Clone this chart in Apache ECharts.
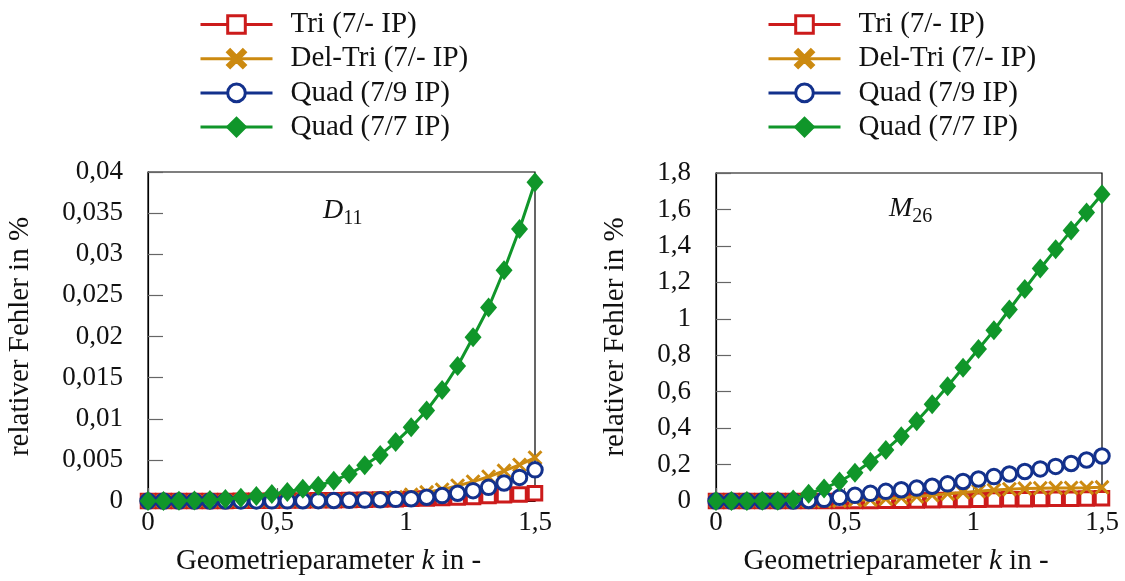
<!DOCTYPE html>
<html><head><meta charset="utf-8">
<script src="https://cdn.jsdelivr.net/npm/echarts@6/dist/echarts.min.js"></script>
<style>html,body{margin:0;padding:0;background:#fff}#c{width:1125px;height:581px}</style>
</head><body><div id="c"></div>
<script>
const xs = [0, 0.06, 0.12, 0.18, 0.24, 0.30, 0.36, 0.42, 0.48, 0.54, 0.60, 0.66, 0.72, 0.78, 0.84, 0.90, 0.96, 1.02, 1.08, 1.14, 1.20, 1.26, 1.32, 1.38, 1.44, 1.50];

const seriesNames = ['Tri (7/- IP)', 'Del-Tri (7/- IP)', 'Quad (7/9 IP)', 'Quad (7/7 IP)'];

// Left panel: D11
const d11Tri    = [0, 0, 0, 0, 0, 0.00001, 0.00002, 0.00003, 0.00004, 0.00005, 0.00006, 0.00008, 0.0001, 0.00012, 0.00015, 0.00018, 0.00022, 0.00026, 0.0003, 0.00036, 0.00042, 0.0005, 0.0006, 0.0007, 0.0008, 0.00095];
const d11DelTri = [0, 0, 0, 0, 0, 0, 0, 0.00001, 0.00001, 0.00002, 0.00003, 0.00004, 0.00006, 0.0001, 0.00015, 0.00026, 0.00046, 0.00075, 0.00106, 0.00138, 0.00186, 0.00235, 0.00295, 0.00367, 0.00439, 0.00527];
const d11Quad9  = [0, 0, 0, 0, 0, 0, 0.00001, 0.00001, 0.00002, 0.00002, 0.00003, 0.00004, 0.00006, 0.00008, 0.00011, 0.00015, 0.0002, 0.00028, 0.00045, 0.00066, 0.00094, 0.00126, 0.00166, 0.00219, 0.00287, 0.00379];
const d11Quad7  = [0, 0, 0.00002, 0.00005, 0.00012, 0.00025, 0.0004, 0.0006, 0.00085, 0.0011, 0.0015, 0.00186, 0.00247, 0.00327, 0.00435, 0.0056, 0.00716, 0.00896, 0.0110, 0.0135, 0.01642, 0.01991, 0.02352, 0.02805, 0.03306, 0.03876];

// Right panel: M26
const m26Tri    = [0, 0, 0, 0, 0, 0, 0, 0, 0, 0, 0, 0.001, 0.002, 0.003, 0.004, 0.005, 0.006, 0.007, 0.008, 0.009, 0.010, 0.011, 0.012, 0.013, 0.014, 0.015];
const m26DelTri = [0, 0, 0, 0, 0, 0, 0, 0, 0.002, 0.004, 0.007, 0.012, 0.018, 0.025, 0.032, 0.040, 0.047, 0.054, 0.060, 0.065, 0.068, 0.070, 0.071, 0.072, 0.073, 0.075];
const m26Quad9  = [0, 0, 0, 0, 0, 0, 0.003, 0.009, 0.020, 0.031, 0.042, 0.053, 0.062, 0.071, 0.081, 0.094, 0.107, 0.121, 0.134, 0.148, 0.162, 0.176, 0.190, 0.206, 0.225, 0.247];
const m26Quad7  = [0, 0, 0, 0.001, 0.002, 0.008, 0.040, 0.069, 0.107, 0.155, 0.215, 0.280, 0.356, 0.437, 0.531, 0.630, 0.731, 0.834, 0.937, 1.051, 1.164, 1.276, 1.381, 1.484, 1.583, 1.683];

const yTicksLeft = {min: 0, max: 0.04, interval: 0.005};
const yTicksRight = {min: 0, max: 1.8, interval: 0.2};
const xTicks = {min: 0, max: 1.5, interval: 0.5};

const FONT = 'Liberation Serif';
const colors = ['#cc1b1b', '#cc8a10', '#13318c', '#10962a'];
const xPath = 'path://M0,2.8L2.8,0L10,7.2L17.2,0L20,2.8L12.8,10L20,17.2L17.2,20L10,12.8L2.8,20L0,17.2L7.2,10Z';
const symbols = [
  {symbol: 'rect', size: 13.5, fill: '#fff', bw: 3},
  {symbol: xPath, size: 15, fill: null, bw: 0},
  {symbol: 'circle', size: 14.5, fill: '#fff', bw: 3},
  {symbol: 'diamond', size: [17, 20], fill: null, bw: 0}
];

function fmt(v) { return String(+(+v).toFixed(6)).replace('.', ','); }

function mkSeries(dataArr, gi) {
  return dataArr.map((arr, i) => ({
    name: seriesNames[i],
    type: 'line',
    xAxisIndex: gi, yAxisIndex: gi,
    data: xs.map((x, j) => [x, arr[j]]),
    symbol: symbols[i].symbol,
    symbolSize: symbols[i].size,
    showAllSymbol: true,
    clip: false,
    z: 2 + i,
    lineStyle: {color: colors[i], width: 3},
    itemStyle: {
      color: symbols[i].fill || colors[i],
      borderColor: colors[i],
      borderWidth: symbols[i].bw,
      opacity: 1
    },
    emphasis: {disabled: true},
    animation: false
  }));
}

function xAxis(gi) {
  return {
    type: 'value', gridIndex: gi, min: xTicks.min, max: xTicks.max, interval: xTicks.interval,
    axisLine: {show: true, onZero: false, lineStyle: {color: '#000', width: 1.2}},
    axisTick: {show: true, inside: true, length: 13, lineStyle: {color: '#666', width: 1.2}},
    axisLabel: {formatter: fmt, color: '#111', fontFamily: FONT, fontSize: 27, margin: 8},
    splitLine: {show: false},
    name: 'Geometrieparameter {k|k} in -',
    nameLocation: 'middle', nameGap: 46,
    nameTextStyle: {color: '#111', fontFamily: FONT, fontSize: 29, padding: [0, 26, 0, 0],
      rich: {k: {fontStyle: 'italic', fontFamily: FONT, fontSize: 29, color: '#111'}}}
  };
}
function yAxis(gi, t, gap) {
  return {
    type: 'value', gridIndex: gi, min: t.min, max: t.max, interval: t.interval,
    axisLine: {show: true, lineStyle: {color: '#000', width: 1.2}},
    axisTick: {show: true, inside: true, length: 15, lineStyle: {color: '#666', width: 1.2}},
    axisLabel: {formatter: fmt, color: '#111', fontFamily: FONT, fontSize: 27, margin: 25},
    splitLine: {show: false},
    name: 'relativer Fehler in %',
    nameLocation: 'middle', nameGap: gap, nameRotate: 90,
    nameTextStyle: {color: '#111', fontFamily: FONT, fontSize: 29}
  };
}

function legend(left) {
  return {
    orient: 'vertical', left: left, top: 5,
    itemWidth: 72, itemHeight: 22, itemGap: 5.2,
    data: seriesNames,
    selectedMode: false,
    lineStyle: {width: 3},
    itemStyle: {borderWidth: 3},
    textStyle: {fontFamily: FONT, fontSize: 29, color: '#111', padding: [0, 0, 0, 13]}
  };
}

const subStyle = {
  fontWeight: 'normal',
  rich: {
    i: {fontStyle: 'italic', fontWeight: 'normal', fontFamily: FONT, fontSize: 28, color: '#111', verticalAlign: 'top', lineHeight: 30},
    s: {fontFamily: FONT, fontWeight: 'normal', fontSize: 20, color: '#111', verticalAlign: 'top', lineHeight: 20, padding: [12, 0, 0, 0]}
  }
};

const chart = echarts.init(document.getElementById('c'), null, {renderer: 'canvas'});
chart.setOption({
  backgroundColor: '#fff',
  animation: false,
  legend: [legend(194), legend(762)],
  title: [
    {text: '{i|D}{s|11}', left: 318, top: 192, textStyle: subStyle},
    {text: '{i|M}{s|26}', left: 884, top: 190, textStyle: subStyle}
  ],
  grid: [
    {left: 148, top: 172, width: 387, height: 333, show: true, borderColor: '#000', borderWidth: 1.2, backgroundColor: 'transparent'},
    {left: 716, top: 173, width: 386, height: 333, show: true, borderColor: '#000', borderWidth: 1.2, backgroundColor: 'transparent'}
  ],
  xAxis: [xAxis(0), xAxis(1)],
  yAxis: [yAxis(0, yTicksLeft, 113), yAxis(1, yTicksRight, 86)],
  series: [
    ...mkSeries([d11Tri, d11DelTri, d11Quad9, d11Quad7], 0),
    ...mkSeries([m26Tri, m26DelTri, m26Quad9, m26Quad7], 1)
  ]
});
</script>
</body></html>
